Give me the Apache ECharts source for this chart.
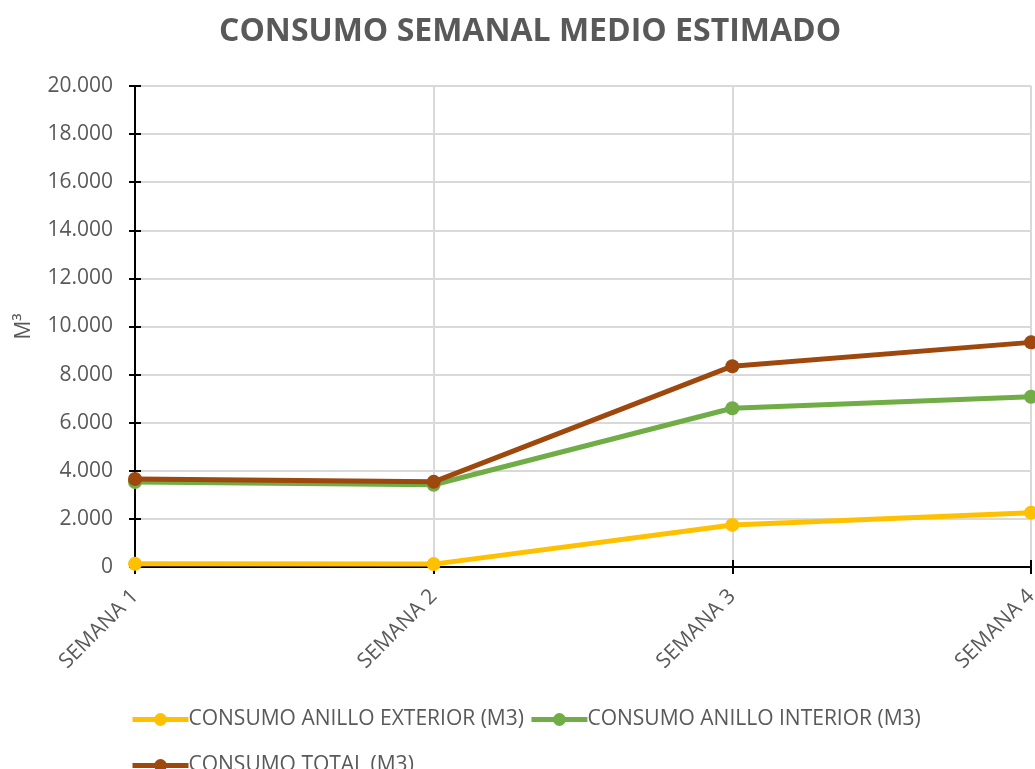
<!DOCTYPE html>
<html lang="es">
<head>
    <title>consumo</title>
    <meta charset="utf-8">
    <style>
        html, body { margin: 0; padding: 0; background: #fff; }
    </style>
</head>
<body>
<script type="text/javascript" src="https://cdn.jsdelivr.net/npm/echarts@6/dist/echarts.min.js"></script>
<div id="main" style="width: 1035px;height: 769px"></div>
<script type="text/javascript">
    var semanas = ['SEMANA 1', 'SEMANA 2', 'SEMANA 3', 'SEMANA 4'];
    var exterior = [130, 120, 1750, 2260];
    var interior = [3530, 3420, 6600, 7080];
    var total = [3660, 3540, 8350, 9340];
    var nombres = ['CONSUMO ANILLO EXTERIOR (M3)', 'CONSUMO ANILLO INTERIOR (M3)', 'CONSUMO TOTAL (M3)'];
    var colores = ['#FFC000', '#70AD47', '#9E480E'];

    var gris = '#595959';
    var fuente = 'Open Sans';

    var dom = document.getElementById('main');
    var myChart = echarts.init(dom);

    function miles(v) {
        // 20000 -> 20.000
        return String(v).replace(/\B(?=(\d{3})+(?!\d))/g, '.');
    }

    function serie(i, datos) {
        return {
            name: nombres[i],
            type: 'line',
            data: datos,
            symbol: 'circle',
            symbolSize: 14,
            lineStyle: { width: 5, color: colores[i] },
            itemStyle: { color: colores[i] },
            z: 3 + i
        };
    }

    var option = {
        animation: false,
        textStyle: { fontFamily: fuente },
        title: {
            text: 'CONSUMO SEMANAL MEDIO ESTIMADO',
            left: 214,
            top: 11,
            textStyle: { color: gris, fontSize: 32, fontWeight: 'bold', fontFamily: fuente }
        },
        legend: {
            data: nombres,
            left: 125,
            top: 694,
            width: 850,
            itemWidth: 56,
            itemHeight: 16,
            itemGap: 5,
            lineStyle: { width: 5 },
            textStyle: { color: gris, fontSize: 21, lineHeight: 41, fontFamily: fuente, padding: [0, 0, 0, -5] },
            itemStyle: { borderWidth: 0 }
        },
        grid: { left: 135, right: 4, top: 86, bottom: 202, containLabel: false, outerBoundsMode: 'none' },
        xAxis: [{
            type: 'category',
            data: semanas,
            boundaryGap: false,
            axisLine: { lineStyle: { color: '#000', width: 2 } },
            axisTick: { show: true, length: 7, lineStyle: { color: '#000', width: 2 } },
            splitLine: { show: true, lineStyle: { color: '#d9d9d9', width: 2 } },
            axisLabel: { rotate: 45, color: gris, fontSize: 21, margin: 26, fontFamily: fuente }
        }, {
            type: 'category',
            data: semanas,
            boundaryGap: false,
            position: 'bottom',
            axisLine: { show: false },
            axisTick: { show: true, inside: true, length: 7, lineStyle: { color: '#000', width: 2 } },
            axisLabel: { show: false },
            splitLine: { show: false }
        }],
        yAxis: [{
            type: 'value',
            min: 0,
            max: 20000,
            interval: 2000,
            name: 'M³',
            nameLocation: 'middle',
            nameGap: 100,
            nameTextStyle: { color: gris, fontSize: 21, fontFamily: fuente },
            axisLine: { show: true, lineStyle: { color: '#000', width: 2 } },
            axisTick: { show: true, length: 6, lineStyle: { color: '#000', width: 2 } },
            splitLine: { show: true, lineStyle: { color: '#d9d9d9', width: 2 } },
            axisLabel: { color: gris, fontSize: 21, margin: 22, fontFamily: fuente, formatter: miles }
        }, {
            type: 'value',
            min: 0,
            max: 20000,
            interval: 2000,
            position: 'left',
            axisLine: { show: false },
            axisTick: { show: true, inside: true, length: 6, lineStyle: { color: '#000', width: 2 } },
            axisLabel: { show: false },
            splitLine: { show: false }
        }],
        series: [serie(0, exterior), serie(1, interior), serie(2, total)]
    };
    myChart.setOption(option);
</script>
</body>
</html>
